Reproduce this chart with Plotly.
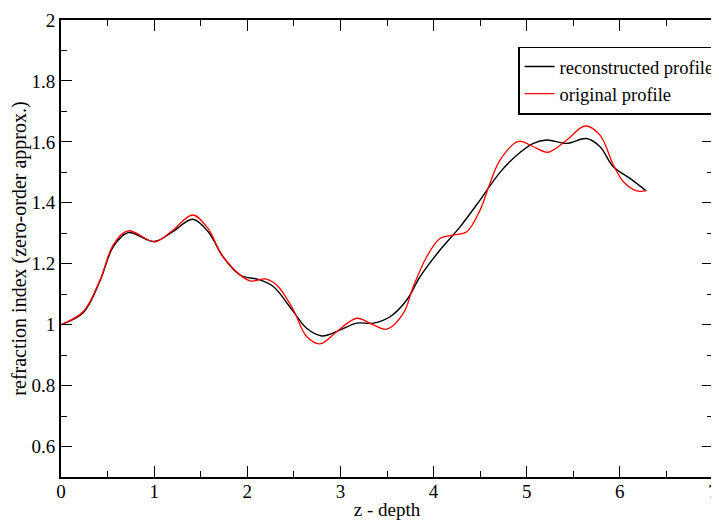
import plotly.graph_objects as go

# reconstructed profile (black)
z_rec = [0.0, 0.24, 0.42, 0.56, 0.72, 1.0, 1.2, 1.414, 1.58, 1.74, 1.922, 2.137, 2.28, 2.494,
         2.637, 2.8, 3.0, 3.175, 3.354, 3.533, 3.712, 3.854, 4.069, 4.284, 4.499, 4.713,
         4.893, 5.071, 5.215, 5.43, 5.644, 5.787, 5.93, 6.109, 6.283]
n_rec = [1.0, 1.04, 1.145, 1.255, 1.302, 1.273, 1.305, 1.346, 1.305, 1.223, 1.163, 1.147, 1.125, 1.043,
         0.988, 0.963, 0.983, 1.005, 1.005, 1.026, 1.081, 1.157, 1.245, 1.321, 1.409, 1.50,
         1.556, 1.595, 1.606, 1.595, 1.611, 1.584, 1.518, 1.48, 1.439]

# original profile (red)
z_org = [0.0, 0.24, 0.42, 0.56, 0.72, 1.01, 1.2, 1.414, 1.58, 1.74, 2.03, 2.19, 2.316, 2.494,
         2.637, 2.78, 2.96, 3.175, 3.354, 3.497, 3.675, 3.783, 3.926, 4.069, 4.212, 4.356,
         4.499, 4.606, 4.713, 4.91, 5.071, 5.232, 5.43, 5.626, 5.787, 5.93, 6.038, 6.181, 6.283]
n_org = [1.0, 1.043, 1.147, 1.261, 1.308, 1.272, 1.31, 1.36, 1.315, 1.223, 1.144, 1.15, 1.13, 1.049,
         0.961, 0.937, 0.977, 1.021, 0.999, 0.985, 1.037, 1.125, 1.223, 1.283, 1.294, 1.305,
         1.376, 1.464, 1.54, 1.602, 1.584, 1.566, 1.606, 1.652, 1.622, 1.524, 1.469, 1.439, 1.44]

FONT = "Liberation Serif, Times New Roman, serif"

fig = go.Figure()
fig.add_trace(go.Scatter(x=z_rec, y=n_rec, mode="lines", name="reconstructed profile",
                         line=dict(color="black", width=1.4, shape="spline", smoothing=1.0)))
fig.add_trace(go.Scatter(x=z_org, y=n_org, mode="lines", name="original profile",
                         line=dict(color="red", width=1.3, shape="spline", smoothing=1.0)))

axis_common = dict(
    showline=True, linecolor="black", linewidth=2, mirror="allticks",
    ticks="inside", ticklen=11, tickwidth=1, tickcolor="black",
    showgrid=False, zeroline=False,
    tickfont=dict(family=FONT, size=19, color="black"),
)

fig.update_xaxes(range=[0, 7], dtick=1, tick0=0, ticklabelstandoff=-4,
                 minor=dict(dtick=0.5, ticks="inside", ticklen=6, tickwidth=1, tickcolor="black"),
                 title=dict(text="z - depth", font=dict(family=FONT, size=19, color="black"), standoff=2),
                 **axis_common)
fig.update_yaxes(range=[0.5, 2], dtick=0.2, tick0=0.6,
                 minor=dict(dtick=0.1, ticks="inside", ticklen=6, tickwidth=1, tickcolor="black"),
                 title=dict(text="refraction index (zero-order approx.)", font=dict(family=FONT, size=20, color="black"), standoff=8),
                 **axis_common)

# the page body has an 8px default margin; the figure is sized to fill the rest of the window
fig.update_layout(
    width=711, height=512,
    margin=dict(l=53, r=6, t=12, b=43, autoexpand=False),
    paper_bgcolor="white", plot_bgcolor="white",
    font=dict(family=FONT, size=19, color="black"),
    legend=dict(x=0.701, y=0.942, xanchor="left", yanchor="top",
                bordercolor="black", borderwidth=1.5, bgcolor="white",
                font=dict(family=FONT, size=18.5, color="black"),
                tracegroupgap=0, itemwidth=30),
    showlegend=True,
)

fig.write_html("out.html")
